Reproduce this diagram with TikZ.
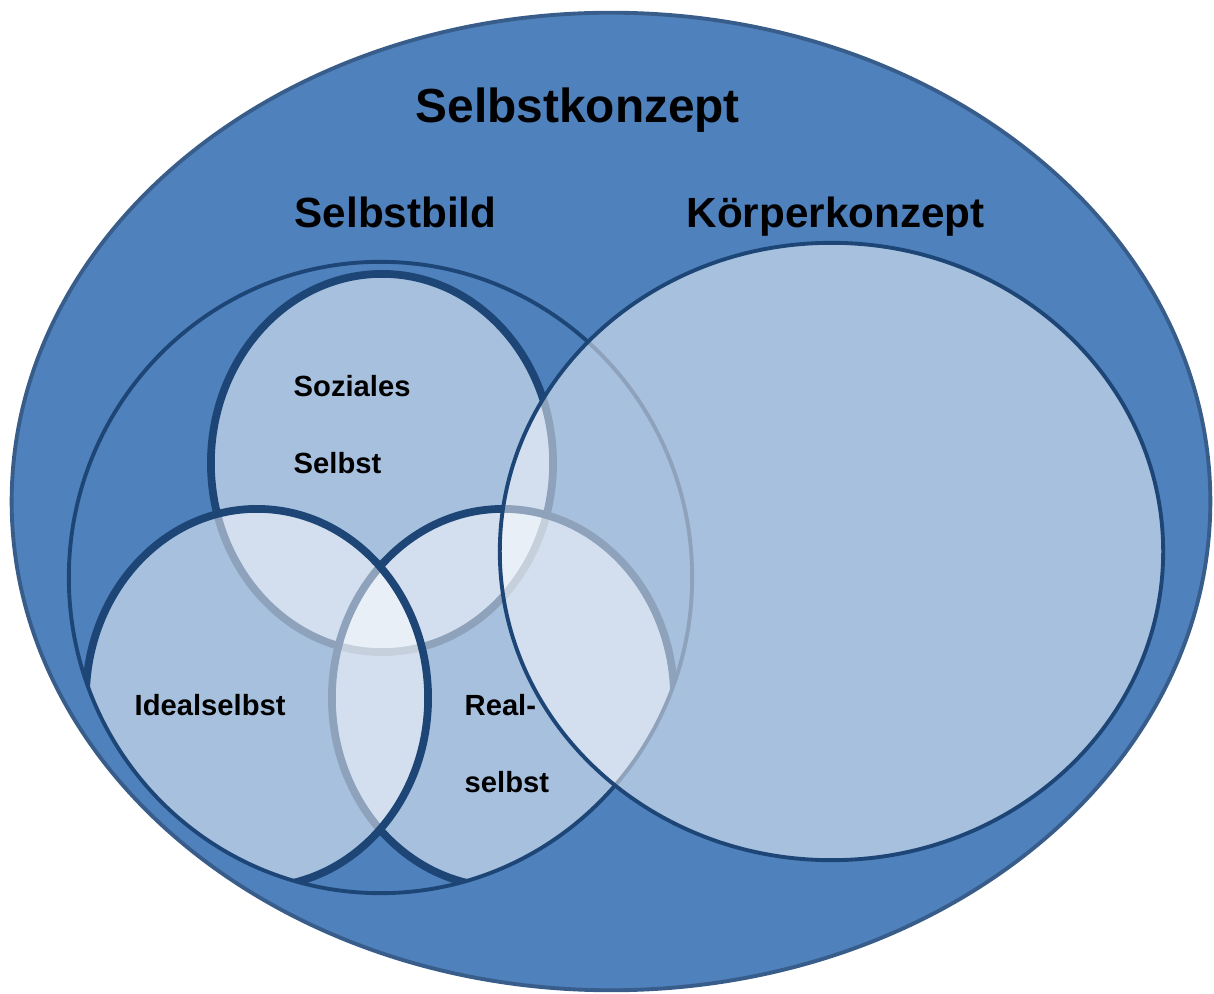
\documentclass[tikz,border=0pt]{standalone}
\usepackage{fontspec}
\setmainfont{Liberation Sans}
\definecolor{fieldblue}{HTML}{4F81BD}
\definecolor{rimblue}{HTML}{385D8A}
\definecolor{inkblue}{HTML}{1D4677}

\tikzset{
  outerarea/.style={fill=fieldblue, draw=rimblue, line width=1.1pt},
  veil/.style={fill=white, fill opacity=0.5, draw=inkblue, draw opacity=1},
  part/.style={veil, line width=2.2pt},
  area/.style={veil, line width=1.1pt},
  rim/.style={draw=inkblue, line width=1.1pt},
  titlelabel/.style={anchor=base west, inner sep=0pt, font=\fontsize{13.6}{16}\selectfont\bfseries},
  headlabel/.style={anchor=base west, inner sep=0pt, font=\fontsize{12}{14}\selectfont\bfseries},
  smalllabel/.style={anchor=base west, inner sep=0pt, font=\fontsize{8.3}{10}\selectfont\bfseries}
}

\begin{document}
\begin{tikzpicture}[x=0.01cm, y=-0.01cm]
\useasboundingbox (0,0) rectangle (1214,994);

% Selbstkonzept: the enclosing ellipse
\path[outerarea] (611,501.5) ellipse [x radius=5.99cm, y radius=4.885cm];

% the three parts of the Selbstbild, kept inside its outline
\begin{scope}
  \clip (380.5,577.5) ellipse [x radius=3.115cm, y radius=3.155cm];
  \path[part] (382,463) ellipse [x radius=1.71cm, y radius=1.89cm];
  \path[part] (503,698) ellipse [x radius=1.71cm, y radius=1.89cm];
  \path[part] (257,698) ellipse [x radius=1.71cm, y radius=1.89cm];
\end{scope}

% Selbstbild outline
\path[rim] (380.5,577.5) ellipse [x radius=3.115cm, y radius=3.155cm];

% Koerperkonzept
\path[area] (831.5,551.5) ellipse [x radius=3.315cm, y radius=3.085cm];

% labels
\node[titlelabel] (tkonzept) at (415,123) {Selbstkonzept};
\node[headlabel] (tbild) at (294,228) {Selbstbild};
\node[headlabel] (tkoerper) at (686,228) {Körperkonzept};
\node[smalllabel] (tsozial1) at (293,397) {Soziales};
\node[smalllabel] (tsozial2) at (293,474) {Selbst};
\node[smalllabel] (tideal) at (134,716) {Idealselbst};
\node[smalllabel] (treal1) at (464,716) {Real-};
\node[smalllabel] (treal2) at (464,793) {selbst};
\end{tikzpicture}
\end{document}
